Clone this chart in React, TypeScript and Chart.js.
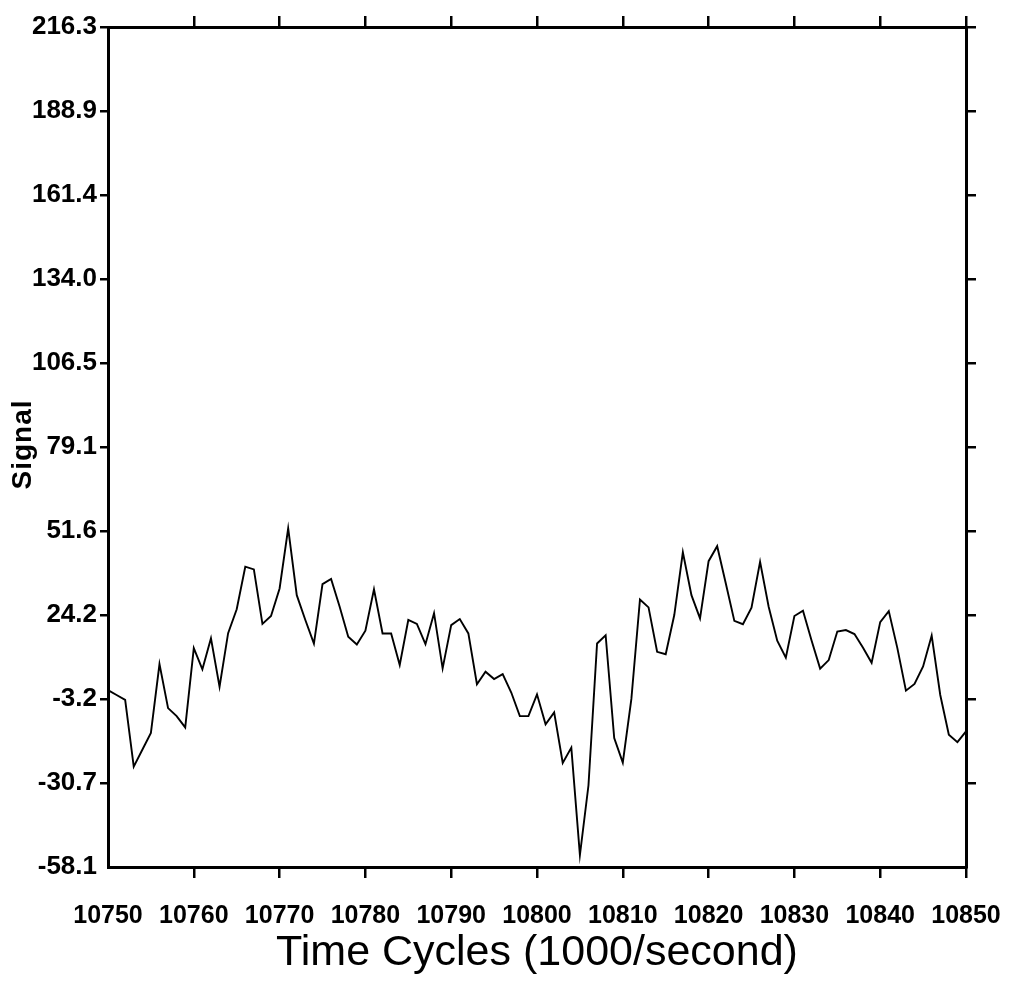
import React, { useEffect, useRef } from "react";
import { Chart, registerables } from "chart.js";

Chart.register(...registerables);

const startCycle = 10750;
const signalValues: number[] = [
  -0.3, -1.9, -3.5, -25.3, -19.8, -14.3, 8.2, -6.2, -8.8, -12.5,
  13.4, 6.5, 16.6, 0.8, 18.3, 26.1, 40.0, 39.1, 21.3, 23.9,
  32.9, 52.5, 30.7, 22.6, 14.9, 34.3, 36.0, 26.9, 17.1, 14.6,
  19.1, 32.6, 18.2, 18.2, 7.9, 22.6, 21.3, 14.7, 24.8, 6.8,
  20.9, 22.9, 18.2, 1.6, 5.7, 3.3, 4.9, -1.1, -8.8, -8.8,
  -1.7, -11.5, -7.6, -24.1, -19.1, -54.2, -31.4, 14.9, 17.6, -16.0,
  -24.0, -3.2, 29.3, 26.7, 12.2, 11.4, 24.2, 44.7, 30.7, 23.1,
  41.8, 46.7, 34.6, 22.3, 21.2, 26.6, 41.6, 26.9, 15.8, 10.3,
  23.9, 25.6, 15.9, 6.7, 9.5, 18.8, 19.3, 18.0, 13.5, 8.6,
  21.9, 25.5, 13.4, -0.5, 1.7, 7.4, 17.5, -1.9, -14.9, -17.3,
  -13.8,
];
const cycles: number[] = signalValues.map((_, i) => startCycle + i);

const xTickValues: number[] = [10750, 10760, 10770, 10780, 10790, 10800, 10810, 10820, 10830, 10840, 10850];
const xTickLabels: string[] = ["10750", "10760", "10770", "10780", "10790", "10800", "10810", "10820", "10830", "10840", "10850"];
const yMin = -58.1;
const yMax = 216.3;
const yTickLabels: string[] = ["-58.1", "-30.7", "-3.2", "24.2", "51.6", "79.1", "106.5", "134.0", "161.4", "188.9", "216.3"];
const yTickValues: number[] = yTickLabels.map((_, i) => yMin + ((yMax - yMin) * i) / (yTickLabels.length - 1));

const xTitle = "Time Cycles (1000/second)";
const yTitle = "Signal";

const FONT = "'Liberation Sans', Arial, Helvetica, sans-serif";

const tickColor = (ctx: any) => (ctx.index === 0 ? "rgba(0,0,0,0)" : "#000");
const noPad = (s: any) => {
  s.paddingLeft = 0;
  s.paddingRight = 0;
  s.paddingTop = 0;
  s.paddingBottom = 0;
};

export default function App() {
  const ref = useRef<HTMLCanvasElement | null>(null);

  useEffect(() => {
    if (!ref.current) return;

    const titlePlugin = {
      id: "axisTitles",
      afterDraw(chart: any) {
        const ctx = chart.ctx as CanvasRenderingContext2D;
        const area = chart.chartArea;
        ctx.save();
        ctx.fillStyle = "#000";
        ctx.font = `43px ${FONT}`;
        ctx.textAlign = "center";
        ctx.textBaseline = "alphabetic";
        ctx.fillText(xTitle, (area.left + area.right) / 2, 957);
        ctx.restore();

        ctx.save();
        ctx.fillStyle = "#000";
        ctx.font = `bold 28px ${FONT}`;
        try {
          (ctx as any).letterSpacing = "1px";
        } catch (e) {}
        ctx.translate(23, 436.5);
        ctx.rotate(-Math.PI / 2);
        ctx.textAlign = "center";
        ctx.textBaseline = "alphabetic";
        ctx.fillText(yTitle, 0, 0);
        ctx.restore();
      },
    };

    const setXTicks = (scale: any) => {
      scale.ticks = xTickValues.map((v) => ({ value: v }));
    };
    const setYTicks = (scale: any) => {
      scale.ticks = yTickValues.map((v) => ({ value: v }));
    };

    const chart = new Chart(ref.current, {
      type: "line",
      data: {
        datasets: [
          {
            data: cycles.map((c, i) => ({ x: c, y: signalValues[i] })),
            borderColor: "#000",
            borderWidth: 1.9,
            pointRadius: 0,
            fill: false,
            tension: 0,
            xAxisID: "x",
            yAxisID: "y",
          },
        ],
      },
      options: {
        animation: false,
        responsive: true,
        maintainAspectRatio: false,
        layout: { padding: 0 },
        plugins: {
          legend: { display: false },
          tooltip: { enabled: false },
          title: { display: false },
        },
        scales: {
          x: {
            type: "linear",
            position: "bottom",
            min: 10750,
            max: 10850,
            afterBuildTicks: setXTicks,
            afterFit: (s: any) => {
              s.height = 109;
              noPad(s);
            },
            grid: { drawOnChartArea: false, drawTicks: true, tickLength: 11, lineWidth: 2.5, color: tickColor },
            border: { display: true, color: "#000", width: 3 },
            ticks: {
              color: "#000",
              padding: 23,
              maxRotation: 0,
              autoSkip: false,
              font: { family: FONT, size: 25, weight: "bold" },
              callback: (_v: any, i: number) => xTickLabels[i],
            },
          },
          x2: {
            type: "linear",
            position: "top",
            min: 10750,
            max: 10850,
            afterBuildTicks: setXTicks,
            afterFit: (s: any) => {
              s.height = 19;
              noPad(s);
            },
            grid: { drawOnChartArea: false, drawTicks: true, tickLength: 11, lineWidth: 2.5, color: tickColor },
            border: { display: true, color: "#000", width: 3 },
            ticks: { display: false },
          },
          y: {
            type: "linear",
            position: "left",
            min: yMin,
            max: yMax,
            afterBuildTicks: setYTicks,
            afterFit: (s: any) => {
              s.width = 100;
              noPad(s);
            },
            grid: { drawOnChartArea: false, drawTicks: true, tickLength: 8, lineWidth: 2.5, color: tickColor },
            border: { display: true, color: "#000", width: 3 },
            ticks: {
              color: "#000",
              padding: 3,
              autoSkip: false,
              font: { family: FONT, size: 26, weight: "bold" },
              callback: (_v: any, i: number) => yTickLabels[i],
            },
          },
          y2: {
            type: "linear",
            position: "right",
            min: yMin,
            max: yMax,
            afterBuildTicks: setYTicks,
            afterFit: (s: any) => {
              s.width = 39;
              noPad(s);
            },
            grid: { drawOnChartArea: false, drawTicks: true, tickLength: 10, lineWidth: 2.5, color: tickColor },
            border: { display: true, color: "#000", width: 3 },
            ticks: { display: false },
          },
        },
      } as any,
      plugins: [titlePlugin],
    });

    return () => {
      chart.destroy();
    };
  }, []);

  return (
    <div style={{ width: 997, height: 968, position: "relative" }}>
      <canvas ref={ref} />
    </div>
  );
}
